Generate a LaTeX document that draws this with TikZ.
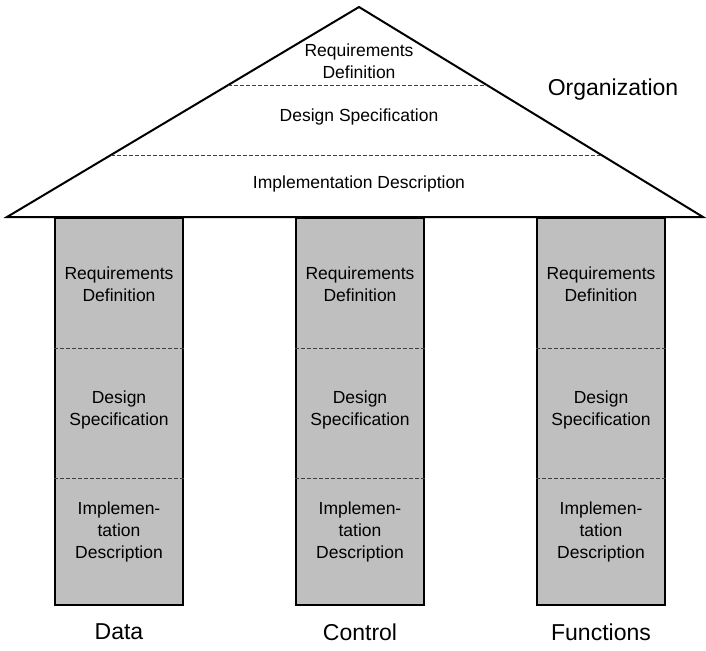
\documentclass[tikz,border=0pt]{standalone}
\usepackage{fontspec}
\setmainfont{Liberation Sans}
\usetikzlibrary{positioning, calc}

\begin{document}
\begin{tikzpicture}[
		x=1pt, y=-1pt,
		pillar/.style={draw, line width=2pt, fill=gray!50,
			minimum width=128pt, minimum height=387pt, inner sep=0pt},
		layer/.style={align=center, font=\fontsize{17.5}{22}\selectfont},
		caption/.style={font=\fontsize{23}{27}\selectfont},
		sep/.style={dash pattern=on 4pt off 2pt, line width=0.8pt, black!75},
		roof/.style={draw, line width=2pt, fill=white, line join=miter},
	]
		\useasboundingbox (0,0) rectangle (706,650);

		% Pillars
		\foreach \x/\n/\lab in {119/dat/Data, 360/ctl/Control, 601/fun/Functions} {
			\node[pillar, anchor=north] (\n) at (\x,217) {};
			\draw[sep] ([yshift=-131pt]\n.north west) -- ([yshift=-131pt]\n.north east);
			\draw[sep] ([yshift=128pt]\n.south west) -- ([yshift=128pt]\n.south east);
			\node[layer] (\n-req) at (\x,284) {Requirements\\Definition};
			\node[layer] (\n-des) at (\x,410) {Design\\Specification};
			\node[layer] (\n-imp) at (\x,532) {Implemen-\\tation\\Description};
			\node[caption] (\n-lab) at (\x,632) {\lab};
		}

		% Roof
		\coordinate (apex) at (359,7);
		\coordinate (eaveL) at (7,217);
		\coordinate (eaveR) at (703,217);
		\draw[roof] (eaveL) -- (apex) -- (eaveR) -- cycle;
		\draw[sep] ($(apex)!0.371!(eaveL)$) -- ($(apex)!0.371!(eaveR)$);
		\draw[sep] ($(apex)!0.705!(eaveL)$) -- ($(apex)!0.705!(eaveR)$);

		\node[layer] (roof-req) at (359,61) {Requirements\\Definition};
		\node[layer] (roof-des) at (359,117) {Design Specification};
		\node[layer] (roof-imp) at (359,184) {Implementation Description};
		\node[caption] (org) at (613,90) {Organization};
	\end{tikzpicture}
\end{document}
